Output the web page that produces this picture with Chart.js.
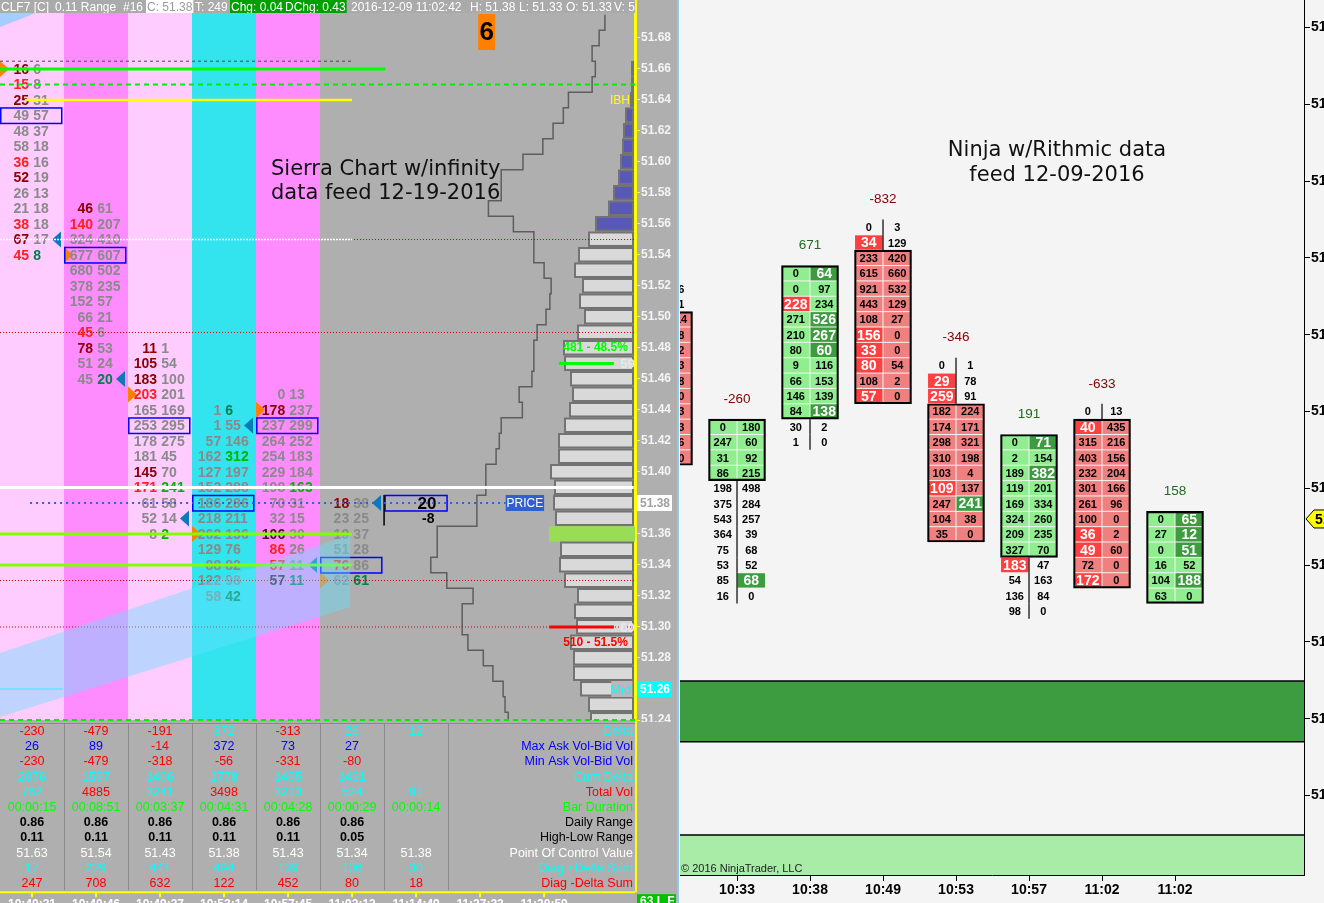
<!DOCTYPE html>
<html>
<head>
<meta charset="utf-8">
<script src="https://cdn.jsdelivr.net/npm/chart.js@4.4.1/dist/chart.umd.min.js"></script>
<style>
html, body { margin: 0; padding: 0; background: #f4f4f4; overflow: hidden; }
#left { position: absolute; left: 0; top: 0; width: 680px; height: 903px; }
#right { position: absolute; left: 680px; top: 0; width: 644px; height: 903px; }
</style>
</head>
<body>
<div id="left"><canvas id="sierra" width="680" height="903"></canvas></div>
<div id="right"><canvas id="ninja" width="644" height="903"></canvas></div>
<script>
/* ---------- SIERRA DATA ---------- */
const sierraTimes = ["10:40:31", "10:40:46", "10:49:37", "10:53:14", "10:57:45", "11:02:13", "11:14:49", "11:27:23", "11:30:59"];
const sierraHigh = [51.66, 51.57, 51.48, 51.44, 51.45, 51.38];
const sierraBid = [
    [16, 15, 25, 49, 48, 58, 36, 52, 26, 21, 38, 67, 45],
    [46, 140, 324, 677, 680, 378, 152, 66, 45, 78, 51, 45],
    [11, 105, 183, 203, 165, 253, 178, 181, 145, 171, 61, 52, 8],
    [1, 1, 57, 162, 127, 152, 186, 218, 262, 129, 88, 122, 58],
    [0, 178, 237, 264, 254, 229, 198, 70, 32, 106, 86, 57, 57],
    [18, 23, 19, 51, 76, 62]
];
const sierraAsk = [
    [6, 8, 31, 57, 37, 18, 16, 19, 13, 18, 18, 17, 8],
    [61, 207, 410, 607, 502, 235, 57, 21, 6, 53, 24, 20],
    [1, 54, 100, 201, 169, 295, 275, 45, 70, 241, 58, 14, 2],
    [6, 55, 146, 312, 197, 288, 286, 211, 136, 76, 82, 98, 42],
    [13, 237, 299, 252, 183, 184, 163, 31, 15, 30, 26, 11, 11],
    [38, 25, 37, 28, 86, 61]
];
// imbalance flags per row: . none, D/R bid strong/weak, G/g ask, K dark
const sierraBidMark = ["DRD...RD..RDR", "DR......RD..", "DDDR....DR...", ".............", ".D.......KRRK", "D...R."];
const sierraAskMark = ["............g", "...........g", ".........G..G", "g..G........g", "......G.....g", ".....g"];
const sierraBlueMark = [51.55, 51.46, 51.37, 51.43, 51.34, 51.38];
const sierraOrangeMark = [51.66, 51.54, 51.45, 51.36, 51.44, 51.33];
const currentPrices = [51.38, 51.37];
const currentValues = [20, -8];
const lastPrice = 51.38;
const sierraTicks = [51.24, 51.26, 51.28, 51.30, 51.32, 51.34, 51.36, 51.38, 51.40, 51.42, 51.44, 51.46,
    51.48, 51.50, 51.52, 51.54, 51.56, 51.58, 51.60, 51.62, 51.64, 51.66, 51.68];

// volume profile, 51.66 down to 51.24
const profileTop = 51.66;
const profileVol = [3, 3, 4, 9, 11, 12, 14, 16, 21, 26, 39, 46, 56, 60, 52, 55, 50, 57, 71, 70, 64, 62,
    65, 70, 76, 76, 84, 80, 81, 79, 86, 74, 75, 70, 57, 60, 58, 64, 61, 61, 54, 46, 44];
const valueAreaHigh = 51.56;
const volAbove = 481, volBelow = 510;
const volAboveLine = 51.47, volBelowLine = 51.30;
const ibHigh = 51.64, midPrice = 51.26;

// stepped session line, 51.69 down to 51.24
const stepTop = 51.69;
const stepX = [9.45, 9.36, 9.25, 9.30, 9.25, 8.88, 8.80, 8.64, 8.48, 8.17,
    7.83, 7.83, 7.63, 8.02, 8.34, 8.34, 8.50, 8.61, 8.59, 8.53,
    8.39, 8.34, 8.34, 8.31, 8.11, 8.16, 7.83, 7.80, 7.75, 7.59,
    7.59, 7.45, 7.45, 6.83, 6.83, 6.73, 6.98, 7.39, 7.22, 7.22,
    7.31, 7.55, 7.70, 7.86, 7.89, 7.94];

const levelPrices = [51.665, 51.66, 51.65, 51.64, 51.55, 51.55, 51.49, 51.39, 51.38, 51.36, 51.34, 51.33, 51.30, 51.26, 51.24];

// table rows
const rowLabels = ["Delta", "Max Ask Vol-Bid Vol", "Min Ask Vol-Bid Vol", "Cum Delta", "Total Vol", "Bar Duration",
    "Daily Range", "High-Low Range", "Point Of Control Value", "Diag +Delta Sum", "Diag -Delta Sum"];
const deltaRow = [-230, -479, -191, 372, -313, 26, 12];
const maxDeltaRow = [26, 89, -14, 372, 73, 27, null];
const minDeltaRow = [-230, -479, -318, -56, -331, -80, null];
const cumDeltaRow = [2076, 1597, 1406, 1778, 1465, 1491, null];
const totalVolRow = [762, 4885, 3241, 3498, 3223, 524, 92];
const durationRow = ["00:00:15", "00:08:51", "00:03:37", "00:04:31", "00:04:28", "00:00:29", "00:00:14"];
const dailyRangeRow = [0.86, 0.86, 0.86, 0.86, 0.86, 0.86, null];
const hlRangeRow = [0.11, 0.11, 0.11, 0.11, 0.11, 0.05, null];
const pocRow = [51.63, 51.54, 51.43, 51.38, 51.43, 51.34, 51.38];
const diagPlusRow = [17, 229, 441, 494, 139, 106, 30];
const diagMinusRow = [247, 708, 632, 122, 452, 80, 18];

/* ---------- NINJA DATA ---------- */
const ninjaTimes = ["", "10:33", "10:38", "10:49", "10:53", "10:57", "11:02", "11:02"];
const ninjaHigh = [51.53, 51.44, 51.54, 51.57, 51.48, 51.43, 51.45, 51.38];
const ninjaOpen = [51.51, 51.41, 51.45, 51.55, 51.45, 51.36, 51.44, 51.33];
const ninjaClose = [51.42, 51.44, 51.54, 51.46, 51.37, 51.43, 51.34, 51.38];
const ninjaDelta = [null, -260, 671, -832, -346, 191, -633, 158];
const ninjaBid = [
    [null, null, null, null, null, null, null, null, null, null, null, null],
    [0, 247, 31, 86, 198, 375, 543, 364, 75, 53, 85, 16],
    [0, 0, 228, 271, 210, 80, 9, 66, 146, 84, 30, 1],
    [0, 34, 233, 615, 921, 443, 108, 156, 33, 80, 108, 57],
    [0, 29, 259, 182, 174, 298, 310, 103, 109, 247, 104, 35],
    [0, 2, 189, 119, 169, 324, 209, 327, 183, 54, 136, 98],
    [0, 40, 315, 403, 232, 301, 261, 100, 36, 49, 72, 172],
    [0, 27, 0, 16, 104, 63]
];
const ninjaAsk = [
    [26, 91, 114, 38, 42, 63, 78, 80, 23, 33, 46, 70],
    [180, 60, 92, 215, 498, 284, 257, 39, 68, 52, 68, 0],
    [64, 97, 234, 526, 267, 60, 116, 153, 139, 138, 2, 0],
    [3, 129, 420, 660, 532, 129, 27, 0, 0, 54, 2, 0],
    [1, 78, 91, 224, 171, 321, 198, 4, 137, 241, 38, 0],
    [71, 154, 382, 201, 334, 260, 235, 70, 47, 163, 84, 0],
    [13, 435, 216, 156, 204, 166, 96, 0, 2, 60, 0, 0],
    [65, 12, 51, 52, 188, 0]
];
const ninjaBidMark = ["............", "............", "..R.........", ".R.....RRR.R", ".RR.....R...", "........R...", ".R......RR.R", "......"];
const ninjaAskMark = ["............", "..........G.", "G..GGG...G..", "............", ".........G..", "G.G.........", "............", "GGG.G."];
const ninjaLast = 51.38;
const ninjaTicks = [51.20, 51.25, 51.30, 51.35, 51.40, 51.45, 51.50, 51.55, 51.60, 51.65, 51.70];
const zoneDark = [51.235, 51.2745];
const zoneLight = [51.1482, 51.1743];

/* ---------- STYLE ---------- */
const FONT = "'Liberation Sans', Arial, sans-serif";
const colColors = ["#ffccff", "#ff8cff", "#ffccff", "#33e3ee", "#ff8cff"];
const markColor = { ".": "#8a8a8a", "D": "#8b0000", "R": "#ff2020", "G": "#00b400", "g": "#007f4a", "K": "#3a1a1a" };
const levelStyle = [
    { c: "#4a4a4a", w: 1, d: [3, 3], x0: 0, x1: 5.5 },
    { c: "#00ff00", w: 3, d: [], x0: 0, x1: 6.02 },
    { c: "#00ee00", w: 2, d: [5, 4], x0: 0, x1: 9.92 },
    { c: "#ffff00", w: 2.5, d: [], x0: 0.39, x1: 5.5 },
    { c: "#d00000", w: 1, d: [1, 2], x0: 0, x1: 9.92 },
    { c: "#ffffff", w: 1.5, d: [2, 1], x0: 0, x1: 5.5 },
    { c: "#d00000", w: 1, d: [1, 2], x0: 0, x1: 9.92 },
    { c: "#ffffff", w: 3, d: [], x0: 0, x1: 9.9 },
    { c: "#2f5fe0", w: 2, d: [2, 4], x0: 0.47, x1: 7.9 },
    { c: "#80ff00", w: 3, d: [], x0: 0, x1: 5.5 },
    { c: "#80ff00", w: 3, d: [], x0: 0, x1: 5.5 },
    { c: "#d00000", w: 1, d: [1, 2], x0: 0, x1: 9.92 },
    { c: "#d00000", w: 1, d: [1, 2], x0: 0, x1: 9.92 },
    { c: "#00ffff", w: 1, d: [], x0: 0, x1: 0.98 },
    { c: "#00ee00", w: 2, d: [5, 4], x0: 0, x1: 9.92 }
];
const round2 = v => Math.round(v * 100) / 100;

function tri(ctx, xBase, xTip, y, color) {
    ctx.fillStyle = color;
    ctx.beginPath();
    ctx.moveTo(xBase, y - 8);
    ctx.lineTo(xTip, y);
    ctx.lineTo(xBase, y + 8);
    ctx.closePath();
    ctx.fill();
}

// keep chart area fixed: no extra room for half tick labels
function noPad(s) {
    s.paddingTop = 0; s.paddingBottom = 0; s.paddingLeft = 0; s.paddingRight = 0;
}

/* ---------- SIERRA PLUGIN ---------- */
const sierraPlugin = {
    id: "sierra",
    beforeDraw(chart) {
        const { ctx, chartArea: a } = chart;
        const X = v => chart.scales.x.getPixelForValue(v);
        const Y = p => chart.scales.y.getPixelForValue(p);
        ctx.save();
        ctx.fillStyle = "#afafaf";
        ctx.fillRect(0, 0, chart.width, chart.height);
        colColors.forEach((c, i) => {
            ctx.fillStyle = c;
            ctx.fillRect(X(i), a.top, X(i + 1) - X(i), a.bottom - a.top);
        });
        ctx.fillStyle = "rgba(150,205,255,0.85)";
        ctx.beginPath();
        ctx.moveTo(a.left, a.top);
        ctx.lineTo(X(0.56), a.top);
        ctx.lineTo(a.left, Y(51.687));
        ctx.closePath();
        ctx.fill();
        ctx.restore();
    },
    beforeDatasetsDraw(chart) {
        const { ctx, chartArea: a } = chart;
        const XV = v => chart.scales.xv.getPixelForValue(v);
        const Y = p => chart.scales.y.getPixelForValue(p);
        const maxVol = Math.max(...profileVol);
        ctx.save();
        ctx.beginPath();
        ctx.rect(a.left, a.top, a.right - a.left, a.bottom - a.top);
        ctx.clip();
        profileVol.forEach((v, i) => {
            const p = round2(profileTop - i * 0.01);
            const x0 = XV(v), x1 = XV(2);
            const y0 = Y(p + 0.0045), y1 = Y(p - 0.0042);
            if (v === maxVol) {
                ctx.fillStyle = "#99dd55";
                ctx.fillRect(x0, Y(p + 0.005), x1 - x0 + 2, Y(p - 0.005) - Y(p + 0.005));
                return;
            }
            ctx.fillStyle = p >= valueAreaHigh - 1e-6 ? "#5858b8" : "#d9d9d9";
            ctx.fillRect(x0, y0, x1 - x0, y1 - y0);
            ctx.strokeStyle = "#737373";
            ctx.lineWidth = 2;
            ctx.strokeRect(x0, y0, x1 - x0, y1 - y0);
        });
        ctx.restore();
    },
    afterDatasetsDraw(chart) {
        const { ctx, chartArea: a } = chart;
        const X = v => chart.scales.x.getPixelForValue(v);
        const Y = p => chart.scales.y.getPixelForValue(p);
        ctx.save();
        ctx.beginPath();
        ctx.rect(a.left, a.top, a.right - a.left, a.bottom - a.top);
        ctx.clip();

        // markers
        sierraHigh.forEach((hi, b) => {
            tri(ctx, X(b) + 61, X(b) + 52, Y(sierraBlueMark[b]), "#0a7ab8");
            tri(ctx, X(b), X(b) + 9, Y(sierraOrangeMark[b]), "#ff8000");
        });

        // footprint numbers
        ctx.font = "bold 14px " + FONT;
        ctx.textBaseline = "middle";
        sierraHigh.forEach((hi, b) => {
            sierraBid[b].forEach((bid, r) => {
                const y = Y(round2(hi - r * 0.01)) + 1;
                ctx.textAlign = "right";
                ctx.fillStyle = markColor[sierraBidMark[b][r]];
                ctx.fillText(String(bid), X(b + 0.455), y);
                ctx.textAlign = "left";
                ctx.fillStyle = markColor[sierraAskMark[b][r]];
                ctx.fillText(String(sierraAsk[b][r]), X(b + 0.52), y);
            });
            ctx.strokeStyle = "#0000ff";
            ctx.lineWidth = 1.5;
            const yp = Y(pocRow[b]);
            ctx.strokeRect(X(b) + 0.75, yp - 7.5, 61, 15.5);
        });

        // current bar
        const cb = sierraHigh.length;
        ctx.fillStyle = "#000";
        ctx.textAlign = "center";
        ctx.font = "bold 17px " + FONT;
        ctx.fillText(String(currentValues[0]), X(cb + 0.67), Y(currentPrices[0]) + 1);
        ctx.font = "bold 14px " + FONT;
        ctx.fillText(String(currentValues[1]), X(cb + 0.69), Y(currentPrices[1]) + 1);
        ctx.strokeStyle = "#0000ff";
        ctx.lineWidth = 1.5;
        ctx.strokeRect(X(cb) + 1, Y(pocRow[cb]) - 7.5, 62, 15.5);
        ctx.strokeStyle = "#000";
        ctx.lineWidth = 1.5;
        ctx.beginPath();
        ctx.moveTo(X(cb), Y(currentPrices[0]) - 8);
        ctx.lineTo(X(cb), Y(currentPrices[1]) + 7);
        ctx.stroke();
        ctx.restore();

        // level lines
        ctx.save();
        levelPrices.forEach((p, i) => {
            const s = levelStyle[i];
            ctx.strokeStyle = s.c;
            ctx.lineWidth = s.w;
            ctx.setLineDash(s.d);
            ctx.beginPath();
            ctx.moveTo(X(s.x0), Y(p));
            ctx.lineTo(X(s.x1), Y(p));
            ctx.stroke();
        });
        ctx.setLineDash([]);

        // translucent band
        ctx.fillStyle = "rgba(100,225,255,0.42)";
        ctx.beginPath();
        ctx.moveTo(X(0), Y(51.2832));
        ctx.lineTo(X(5.47), Y(51.3594));
        ctx.lineTo(X(5.47), Y(51.3129));
        ctx.lineTo(X(0), Y(51.2419));
        ctx.closePath();
        ctx.fill();

        // profile labels
        const tot = volAbove + volBelow;
        ctx.font = "bold 12px " + FONT;
        ctx.textAlign = "right";
        ctx.textBaseline = "middle";
        ctx.fillStyle = "#00ff00";
        ctx.fillText(volAbove + " - " + (volAbove / tot * 100).toFixed(1) + "%", X(9.81), Y(volAboveLine + 0.01));
        ctx.fillStyle = "#ff0000";
        ctx.fillText(volBelow + " - " + (volBelow / tot * 100).toFixed(1) + "%", X(9.81), Y(volBelowLine - 0.01));
        ctx.lineWidth = 3;
        ctx.strokeStyle = "#00ff00";
        ctx.beginPath(); ctx.moveTo(X(8.73), Y(volAboveLine)); ctx.lineTo(X(9.59), Y(volAboveLine)); ctx.stroke();
        ctx.strokeStyle = "#ff0000";
        ctx.beginPath(); ctx.moveTo(X(8.58), Y(volBelowLine)); ctx.lineTo(X(9.59), Y(volBelowLine)); ctx.stroke();
        ctx.font = "bold 13px " + FONT;
        ctx.textAlign = "left";
        ctx.fillStyle = "#e8e8e8";
        ctx.fillText("59", X(9.69), Y(volAboveLine) + 1);
        ctx.fillText("60", X(9.69), Y(volBelowLine) + 1);
        ctx.font = "12px " + FONT;
        ctx.textAlign = "right";
        ctx.fillStyle = "#ffff00";
        ctx.fillText("IBH", X(9.84), Y(ibHigh) + 1);
        ctx.fillStyle = "#b9b9b9";
        ctx.fillRect(X(9.55), Y(midPrice) - 8, X(9.88) - X(9.55), 16);
        ctx.fillStyle = "#00ffff";
        ctx.font = "13px " + FONT;
        ctx.fillText("Mid", X(9.86), Y(midPrice) + 1);

        // PRICE tag
        ctx.fillStyle = "#2f5fd0";
        ctx.fillRect(X(7.9), Y(lastPrice) - 8, X(8.5) - X(7.9), 16);
        ctx.fillStyle = "#ffffff";
        ctx.font = "12px " + FONT;
        ctx.textAlign = "center";
        ctx.fillText("PRICE", X(8.2), Y(lastPrice) + 1);

        // bar counter box
        ctx.fillStyle = "#ff8000";
        ctx.fillRect(X(7.47), a.top + 1, 17, 36);
        ctx.fillStyle = "#000";
        ctx.font = "bold 26px " + FONT;
        ctx.fillText("6", X(7.47) + 8.5, a.top + 20);

        // watermark text
        ctx.font = "21px 'DejaVu Sans', sans-serif";
        ctx.textAlign = "left";
        ctx.fillStyle = "#111";
        ctx.fillText("Sierra Chart w/infinity", 271, 170);
        ctx.fillText("data feed 12-19-2016", 271, 194);
        ctx.restore();
    },
    afterDraw(chart) {
        const { ctx, chartArea: a } = chart;
        const X = v => chart.scales.x.getPixelForValue(v);
        const Y = p => chart.scales.y.getPixelForValue(p);
        ctx.save();

        // header
        ctx.fillStyle = "#aaaaaa";
        ctx.fillRect(0, 0, a.right, a.top);
        ctx.beginPath();
        ctx.rect(0, 0, a.right, a.top);
        ctx.clip();
        ctx.font = "12px " + FONT;
        ctx.textBaseline = "middle";
        ctx.textAlign = "left";
        const header = [
            ["CLF7 [C]", 1], ["0.11 Range", 55], ["#16", 123], ["C: 51.38", 147, "#ffffff", "#9a9a9a"],
            ["T: 249", 195], ["Chg: 0.04", 231, "#00a000"], ["DChg: 0.43", 285, "#00a000"],
            ["2016-12-09 11:02:42", 351], ["H: 51.38", 470], ["L: 51.33", 519], ["O: 51.33", 566], ["V: 5", 614]
        ];
        header.forEach(([t, x, bg, fg]) => {
            if (bg) {
                ctx.fillStyle = bg;
                ctx.fillRect(x - 1, 0, ctx.measureText(t).width + 2, a.top);
            }
            ctx.fillStyle = fg || "#ffffff";
            ctx.fillText(t, x, a.top / 2 + 1);
        });
        ctx.restore();

        // table
        ctx.save();
        ctx.fillStyle = "#afafaf";
        ctx.fillRect(0, a.bottom + 2, chart.width, chart.height - a.bottom - 2);
        const tTop = a.bottom + 3, rh = 15.2;
        ctx.strokeStyle = "#8a8a8a";
        ctx.lineWidth = 1;
        ctx.beginPath();
        for (let c = 1; c <= 7; c++) {
            const x = Math.round(X(c)) + 0.5;
            ctx.moveTo(x, tTop);
            ctx.lineTo(x, tTop + rh * 11);
        }
        ctx.moveTo(0, tTop + 0.5);
        ctx.lineTo(a.right, tTop + 0.5);
        ctx.stroke();
        const rows = [deltaRow, maxDeltaRow, minDeltaRow, cumDeltaRow, totalVolRow, durationRow,
            dailyRangeRow, hlRangeRow, pocRow, diagPlusRow, diagMinusRow];
        const labelColors = ["#00ffff", "#0000ff", "#0000ff", "#00ffff", "#ff0000", "#00ff00",
            "#000000", "#000000", "#ffffff", "#00ffff", "#ff0000"];
        const valColor = (r, c, v) => {
            if (r === 0) return v < 0 ? "#ff0000" : "#00ffff";
            if (r === 1 || r === 2) return v < 0 ? "#ff0000" : "#0000ff";
            if (r === 4) return c > 0 && v > totalVolRow[c - 1] ? "#ff0000" : "#00ffff";
            return labelColors[r];
        };
        ctx.textBaseline = "middle";
        rows.forEach((row, r) => {
            const y = tTop + rh * (r + 0.5) + 1;
            ctx.textAlign = "center";
            ctx.font = (r === 6 || r === 7 ? "bold " : "") + "12.5px " + FONT;
            row.forEach((v, c) => {
                if (v === null) return;
                ctx.fillStyle = valColor(r, c, v);
                const t = (r >= 6 && r <= 8) ? v.toFixed(2) : String(v);
                ctx.fillText(t, X(c + 0.5), y);
            });
            ctx.font = "12.5px " + FONT;
            ctx.textAlign = "right";
            ctx.fillStyle = labelColors[r];
            ctx.fillText(rowLabels[r], a.right - 2, y);
        });

        // time axis
        const ty = tTop + rh * 11 + 2;
        ctx.strokeStyle = "#ffff00";
        ctx.lineWidth = 2;
        ctx.beginPath();
        ctx.moveTo(0, ty);
        ctx.lineTo(a.right, ty);
        sierraTimes.forEach((t, i) => {
            ctx.moveTo(X(i + 0.5), ty);
            ctx.lineTo(X(i + 0.5), ty + 5);
        });
        ctx.stroke();
        ctx.fillStyle = "#ffffff";
        ctx.font = "bold 12px " + FONT;
        ctx.textAlign = "center";
        ctx.textBaseline = "top";
        sierraTimes.forEach((t, i) => ctx.fillText(t, X(i + 0.5), ty + 6));

        // axis line and axis tags
        ctx.strokeStyle = "#ffff00";
        ctx.lineWidth = 2;
        ctx.beginPath();
        ctx.moveTo(a.right + 1, 0);
        ctx.lineTo(a.right + 1, ty);
        ctx.stroke();
        ctx.textBaseline = "middle";
        ctx.textAlign = "left";
        ctx.font = "bold 12px " + FONT;
        ctx.fillStyle = "#ffffff";
        ctx.fillRect(a.right + 2, Y(lastPrice) - 8, 35, 16);
        ctx.fillStyle = "#a0a0a0";
        ctx.fillText(lastPrice.toFixed(2), a.right + 5, Y(lastPrice) + 1);
        ctx.fillStyle = "#00ffff";
        ctx.fillRect(a.right + 2, Y(midPrice) - 8, 35, 16);
        ctx.fillStyle = "#ffffff";
        ctx.fillText(midPrice.toFixed(2), a.right + 5, Y(midPrice) + 1);
        ctx.fillStyle = "#00c000";
        ctx.fillRect(a.right + 2, ty + 2, 39, chart.height - ty);
        ctx.fillStyle = "#ffffff";
        ctx.fillText("63 L F", a.right + 5, ty + 9);

        // panel border
        ctx.fillStyle = "#8fc8ee";
        ctx.fillRect(chart.width - 3, 0, 2, chart.height);
        ctx.fillStyle = "#ffffff";
        ctx.fillRect(chart.width - 1, 0, 1, chart.height);
        ctx.restore();
    }
};

/* ---------- NINJA PLUGIN ---------- */
const ninjaPlugin = {
    id: "ninja",
    beforeDraw(chart) {
        const { ctx, chartArea: a } = chart;
        const Y = p => chart.scales.y.getPixelForValue(p);
        ctx.save();
        ctx.fillStyle = "#f4f4f4";
        ctx.fillRect(0, 0, chart.width, chart.height);
        const d0 = Y(zoneDark[1]), d1 = Y(zoneDark[0]);
        ctx.fillStyle = "#3d9c40";
        ctx.fillRect(a.left, d0, a.right - a.left, d1 - d0);
        const l0 = Y(zoneLight[1]);
        ctx.fillStyle = "#a8eca8";
        ctx.fillRect(a.left, l0, a.right - a.left, a.bottom - l0);
        ctx.strokeStyle = "#000";
        ctx.lineWidth = 1.5;
        ctx.beginPath();
        [d0, d1, l0].forEach(y => { ctx.moveTo(a.left, y); ctx.lineTo(a.right, y); });
        ctx.stroke();
        ctx.font = "21px 'DejaVu Sans', sans-serif";
        ctx.fillStyle = "#111";
        ctx.textAlign = "center";
        ctx.textBaseline = "middle";
        ctx.fillText("Ninja w/Rithmic data", 377, 151);
        ctx.fillText("feed 12-09-2016", 377, 176);
        ctx.restore();
    },
    beforeDatasetsDraw(chart) {
        const { ctx, chartArea: a } = chart;
        const X = v => chart.scales.x.getPixelForValue(v);
        const Y = p => chart.scales.y.getPixelForValue(p);
        ctx.save();
        ctx.beginPath();
        ctx.rect(a.left, a.top, a.right - a.left, a.bottom - a.top);
        ctx.clip();
        ninjaHigh.forEach((hi, k) => {
            const o = ninjaOpen[k], c = ninjaClose[k], up = c > o;
            const lo = Math.min(o, c), top = Math.max(o, c);
            const xl = X(k - 0.39), xm = X(k), xr = X(k + 0.39);
            ninjaAsk[k].forEach((ask, r) => {
                const p = round2(hi - r * 0.01);
                const y0 = Y(p + 0.005), y1 = Y(p - 0.005);
                const inBody = p >= lo - 1e-6 && p <= top + 1e-6;
                [[xl, xm, ninjaBidMark[k][r]], [xm, xr, ninjaAskMark[k][r]]].forEach(([c0, c1, m]) => {
                    let fill = null;
                    if (m === "R") fill = "#ff4040";
                    else if (m === "G") fill = "#3d9c40";
                    else if (inBody) fill = up ? "#90ee90" : "#f08080";
                    if (fill) {
                        ctx.fillStyle = fill;
                        ctx.fillRect(c0 + 0.5, y0 + 0.5, c1 - c0 - 1, y1 - y0 - 1);
                    }
                });
            });
        });
        ctx.restore();
    },
    afterDatasetsDraw(chart) {
        const { ctx, chartArea: a } = chart;
        const X = v => chart.scales.x.getPixelForValue(v);
        const Y = p => chart.scales.y.getPixelForValue(p);
        ctx.save();
        ctx.beginPath();
        ctx.rect(a.left, a.top, a.right - a.left, a.bottom - a.top);
        ctx.clip();
        ctx.textAlign = "center";
        ctx.textBaseline = "middle";
        ninjaHigh.forEach((hi, k) => {
            const o = ninjaOpen[k], c = ninjaClose[k];
            const lo = Math.min(o, c), top = Math.max(o, c);
            const xl = X(k - 0.39), xm = X(k), xr = X(k + 0.39);
            ninjaAsk[k].forEach((ask, r) => {
                const p = round2(hi - r * 0.01);
                const y0 = Y(p + 0.005), y1 = Y(p - 0.005), ym = Y(p) + 1;
                const inBody = p >= lo - 1e-6 && p <= top + 1e-6;
                if (!inBody) {
                    ctx.strokeStyle = "#000";
                    ctx.lineWidth = 1.2;
                    ctx.beginPath();
                    ctx.moveTo(xm, y0);
                    ctx.lineTo(xm, y1);
                    ctx.stroke();
                }
                const bid = ninjaBid[k][r];
                [[bid, (xl + xm) / 2, ninjaBidMark[k][r]], [ask, (xm + xr) / 2, ninjaAskMark[k][r]]].forEach(([v, x, m]) => {
                    if (v === null) return;
                    const strong = m !== ".";
                    ctx.font = (strong ? "bold 14px " : "bold 11px ") + FONT;
                    ctx.fillStyle = strong ? "#ffffff" : "#000000";
                    ctx.fillText(String(v), x, ym);
                });
            });
            if (ninjaDelta[k] !== null) {
                ctx.font = "13.5px " + FONT;
                ctx.fillStyle = ninjaDelta[k] < 0 ? "#800000" : "#1f6b1f";
                ctx.fillText(String(ninjaDelta[k]), X(k), Y(hi + 0.018));
            }
        });
        ctx.restore();
    },
    afterDraw(chart) {
        const { ctx, chartArea: a } = chart;
        const Y = p => chart.scales.y.getPixelForValue(p);
        ctx.save();
        ctx.font = "11px " + FONT;
        ctx.fillStyle = "#222";
        ctx.textAlign = "left";
        ctx.textBaseline = "alphabetic";
        ctx.fillText("\u00a9 2016 NinjaTrader, LLC", a.left + 1, a.bottom - 3);
        const y = Y(ninjaLast);
        ctx.fillStyle = "#ffff00";
        ctx.strokeStyle = "#000";
        ctx.lineWidth = 1;
        ctx.beginPath();
        ctx.moveTo(a.right + 2, y);
        ctx.lineTo(a.right + 10, y - 9);
        ctx.lineTo(chart.width + 2, y - 9);
        ctx.lineTo(chart.width + 2, y + 9);
        ctx.lineTo(a.right + 10, y + 9);
        ctx.closePath();
        ctx.fill();
        ctx.stroke();
        ctx.fillStyle = "#000";
        ctx.font = "bold 14px " + FONT;
        ctx.textBaseline = "middle";
        ctx.fillText(ninjaLast.toFixed(2), a.right + 11, y + 1);
        ctx.restore();
    }
};

/* ---------- SIERRA CHART ---------- */
const stepPoints = stepX.flatMap((v, i) => {
    const p = stepTop - i * 0.01;
    return [{ x: v, y: p + 0.005 }, { x: v, y: p - 0.005 }];
});

new Chart(document.getElementById("sierra"), {
    type: "line",
    data: {
        datasets: [{
            data: stepPoints,
            borderColor: "#5e5e5e",
            borderWidth: 1.5,
            pointRadius: 0,
            tension: 0,
            fill: false
        }]
    },
    options: {
        responsive: false,
        animation: false,
        devicePixelRatio: 1,
        layout: { padding: { top: 13, bottom: 183, left: 0, right: 0 } },
        plugins: { legend: { display: false }, tooltip: { enabled: false } },
        scales: {
            x: { type: "linear", min: 0, max: 9.92, display: false },
            xv: { type: "linear", axis: "x", min: 0, max: 635, reverse: true, display: false },
            y: {
                type: "linear",
                position: "right",
                min: 51.24,
                max: 51.6961,
                afterFit(s) { s.width = 45; noPad(s); },
                afterBuildTicks(s) { s.ticks = sierraTicks.map(v => ({ value: v })); },
                grid: { drawOnChartArea: false, tickLength: 5, tickColor: "#ffff00", color: "#ffff00" },
                border: { color: "#ffff00", width: 2 },
                ticks: {
                    color: "#f4f4f4",
                    padding: 1,
                    font: { family: "'Liberation Sans', Arial, sans-serif", size: 12, weight: "bold" },
                    callback: v => v.toFixed(2)
                }
            }
        }
    },
    plugins: [sierraPlugin]
});

/* ---------- NINJA CHART ---------- */
const bodies = ninjaOpen.map((o, k) => ({
    x: k,
    y: [Math.min(o, ninjaClose[k]) - 0.005, Math.max(o, ninjaClose[k]) + 0.005]
}));

new Chart(document.getElementById("ninja"), {
    type: "bar",
    data: {
        datasets: [{
            data: bodies,
            backgroundColor: "rgba(0,0,0,0)",
            borderColor: "#000000",
            borderWidth: 1.5,
            borderSkipped: false,
            barThickness: 57
        }]
    },
    options: {
        responsive: false,
        animation: false,
        devicePixelRatio: 1,
        layout: { padding: 0 },
        plugins: { legend: { display: false }, tooltip: { enabled: false } },
        scales: {
            x: {
                type: "linear",
                min: 0.219,
                max: 8.767,
                offset: false,
                afterFit(s) { s.height = 28; noPad(s); },
                afterBuildTicks(s) { s.ticks = ninjaTimes.map((t, i) => ({ value: i })).filter(t => ninjaTimes[t.value]); },
                grid: { drawOnChartArea: false, offset: false, tickLength: 6, tickColor: "#000" },
                border: { color: "#000", width: 1 },
                ticks: {
                    color: "#000",
                    padding: 1,
                    autoSkip: false,
                    maxRotation: 0,
                    font: { family: "'Liberation Sans', Arial, sans-serif", size: 14, weight: "bold" },
                    callback: v => ninjaTimes[v] || ""
                }
            },
            y: {
                type: "linear",
                position: "right",
                min: 51.1482,
                max: 51.7179,
                afterFit(s) { s.width = 20; noPad(s); },
                afterBuildTicks(s) { s.ticks = ninjaTicks.map(v => ({ value: v })); },
                grid: { drawOnChartArea: false, tickLength: 6, tickColor: "#000" },
                border: { color: "#000", width: 1 },
                ticks: {
                    color: "#000",
                    padding: 1,
                    font: { family: "'Liberation Sans', Arial, sans-serif", size: 14, weight: "bold" },
                    callback: v => v.toFixed(2)
                }
            }
        }
    },
    plugins: [ninjaPlugin]
});
</script>
</body>
</html>
